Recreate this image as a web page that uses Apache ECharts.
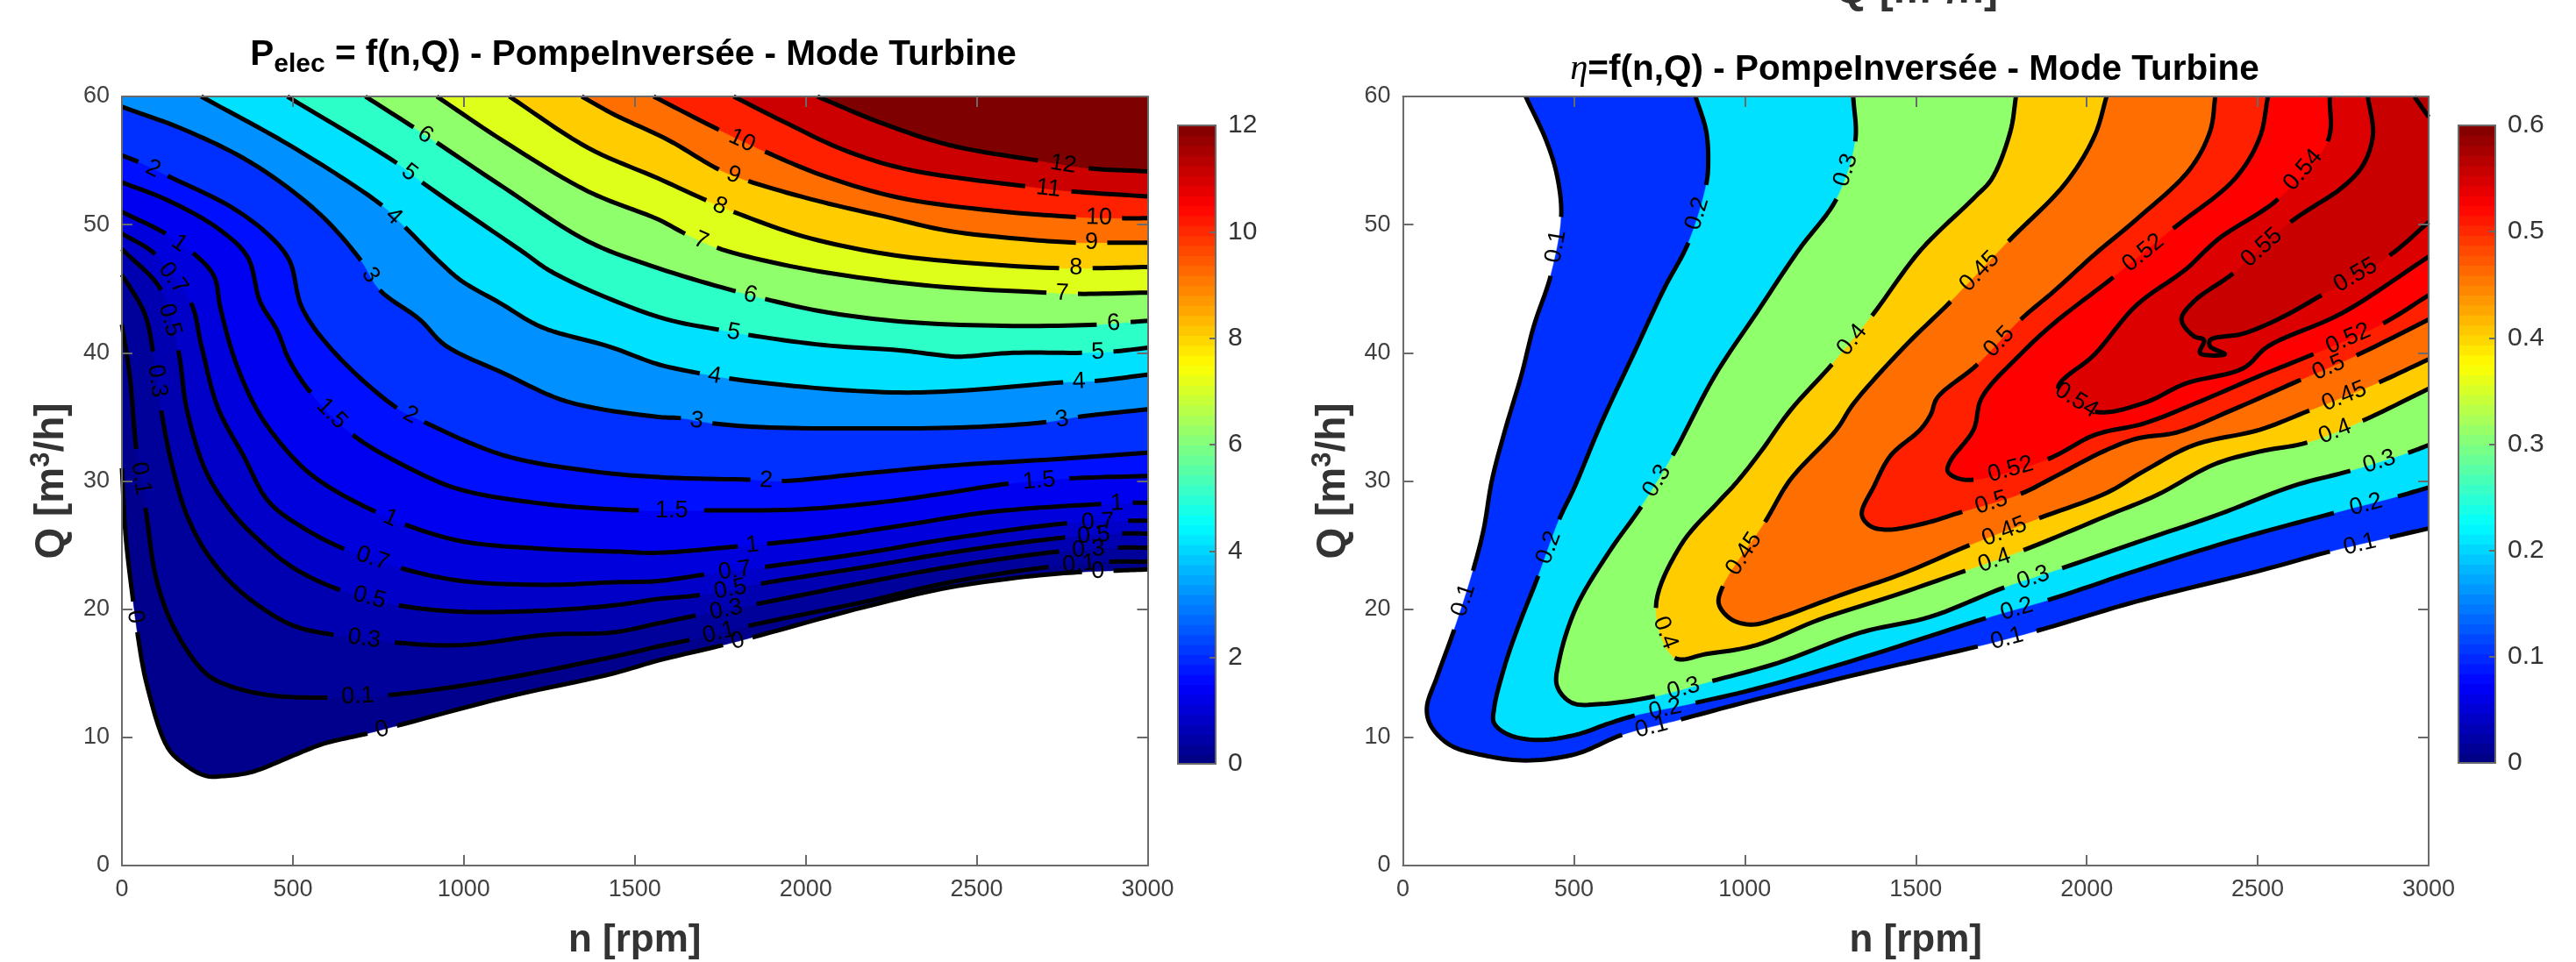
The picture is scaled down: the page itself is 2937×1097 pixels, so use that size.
<!DOCTYPE html>
<html><head><meta charset="utf-8">
<style>html,body{margin:0;padding:0;background:#fff}#c{width:2937px;height:1097px}</style>
<script src="https://cdn.jsdelivr.net/npm/echarts@6/dist/echarts.min.js"></script>
</head><body><div id="c"></div>
<script>
// ---------- data: contour lines as [n, Q]; breaks are where the inline labels sit ----------
const P_0=[[[0,31],[11,25.7],[33,20.6]],[[45,18.2],[73,14.1],[134,9.2],[183,7.9],[245,7],[306,7],[380,7.3],[503,8.6],[589,9.5],[718,10.3]],[[804,10.9],[1117,13.1],[1439,15],[1569,16],[1758,17.2]],[[1844,17.8],[2176,20.2],[2421,21.7],[2667,22.6],[2808,22.9]],[[2900,23],[3000,23.1]]];
const P_01=[[[0,42.2],[23,38.2],[42,32.5]],[[69,27.9],[103,22.1],[159,18.2],[245,15],[306,14.1],[429,13.3],[601,13.1]],[[779,13.3],[1056,14.3],[1439,16.3],[1569,17.1],[1660,17.6]],[[1832,18.7],[2176,20.6],[2421,22.1],[2710,23.3]],[[2888,23.7],[3000,23.7]]];
const P_03=[[[0,46.1],[66,43.1],[91,40.1]],[[115,35.5],[146,31.3],[189,27.4],[245,24.5],[318,22.1],[404,20.2],[503,18.7],[619,18]],[[798,17.4],[994,17.2],[1240,18],[1439,18.2],[1569,18.9],[1678,19.5]],[[1856,20.4],[2176,22.1],[2421,23.3],[2741,24.5]],[[2913,24.8],[3000,24.8]]];
const P_05=[[[0,48.1],[115,44.9]],[[165,40.2],[189,35.7],[245,30.8],[318,27.7],[404,25.3],[503,23.2],[638,21.5]],[[810,20.3],[994,19.8],[1240,19.9],[1439,20.3],[1569,20.8],[1690,21.1]],[[1869,22],[2176,23.3],[2421,24.4],[2759,25.6]],[[2925,25.9],[3000,25.9]]];
const P_07=[[[0,49.3],[97,47.7]],[[202,43.9],[232,40.6],[281,35.7],[355,32],[429,28.4],[527,26.4],[650,24.7]],[[816,23.2],[994,22.2],[1240,21.9],[1439,22.1],[1569,22.2],[1703,22.7]],[[1881,23.3],[2176,24.4],[2421,25.5],[2765,26.7]],[[2943,26.9],[3000,26.9]]];
const P_1=[[[0,51],[128,49.3]],[[208,47.8],[269,46],[288,43.5],[331,39.4],[392,35.7],[453,33.3],[540,30.8],[626,29.2],[742,27.6]],[[828,26.6],[994,25.3],[1240,24.7],[1439,24.5],[1569,24.4],[1801,24.9]],[[1887,25.1],[2053,25.6],[2298,26.6],[2544,27.6],[2864,28.2]],[[2956,28.3],[3000,28.3]]];
const P_15=[[[0,53.3],[134,51.9],[281,49.7],[367,47.5],[404,44],[453,41.8],[490,39.4],[552,36.9]],[[675,33.6],[871,30.6],[994,29.3],[1240,28.2],[1512,27.7]],[[1703,27.7],[1991,27.8],[2237,28.4],[2421,29.1],[2593,29.8]],[[2771,30.2],[3000,30.4]]];
const P_2=[[[0,55.4],[48,54.9]],[[134,53.8],[318,51.4],[429,49.2],[490,47.2],[527,43.5],[626,39.9],[804,35.7]],[[884,34.6],[1117,32],[1363,30.8],[1569,30.3],[1838,30.1]],[[1930,30],[2176,30.6],[2421,31.2],[2728,31.7],[3000,32.2]]];
const P_3=[[[0,59.2],[183,57.4],[380,54.8],[576,50.9],[699,47.2]],[[754,44.9],[871,42.6],[945,40.6],[1117,38.4],[1302,36.2],[1569,35],[1635,34.9]],[[1727,34.5],[1869,34.2],[2176,34.1],[2483,34.2],[2704,34.6]],[[2796,35],[3000,35.6]]];
const P_4=[[[232,60],[503,56],[761,51.5]],[[828,49.8],[933,47],[994,45.6],[1105,43.9],[1228,42],[1424,40.5],[1569,39.1],[1690,38.4]],[[1776,38],[2053,37.2],[2298,36.9],[2483,37.1],[2753,37.7]],[[2845,37.8],[3000,38.3]]];
const P_5=[[[484,60],[804,54.8]],[[878,53.3],[1166,48],[1265,46.2],[1569,42.8],[1746,41.8]],[[1832,41.4],[2053,40.6],[2274,40.2],[2397,39.8],[2446,39.7],[2606,40],[2808,40]],[[2900,40.1],[3000,40.4]]];
const P_6=[[[712,60],[853,57.6]],[[921,56.4],[1117,52.9],[1363,48.7],[1569,46.6],[1795,44.8]],[[1881,44.2],[2053,43.2],[2298,42.4],[2606,42.1],[2851,42.2]],[[2950,42.4],[3000,42.5]]];
const P_7=[[[921,60],[1117,56.5],[1363,52.6],[1569,50.4],[1647,49.3]],[[1740,48.2],[1930,46.9],[2176,45.8],[2421,45.1],[2704,44.7]],[[2796,44.6],[3000,44.7]]];
const P_8=[[[1133,60],[1363,56],[1569,53.6],[1709,51.9]],[[1789,51],[1991,49.1],[2237,47.7],[2483,47],[2741,46.6]],[[2839,46.6],[3000,46.7]]];
const P_9=[[[1345,60],[1439,58.6],[1598,56.6],[1746,54.3]],[[1832,53.4],[2028,51.9],[2237,50.6],[2421,49.5],[2667,48.8],[2790,48.6]],[[2882,48.6],[3000,48.6]]];
const P_10=[[[1555,60],[1746,57.4]],[[1881,55.7],[2053,53.8],[2274,52.1],[2544,51.1],[2790,50.6]],[[2925,50.5],[3000,50.5]]];
const P_11=[[[1789,60],[1930,58.1],[2114,55.8],[2298,54.3],[2642,53]],[[2777,52.6],[3000,52.2]]];
const P_12=[[[2034,60],[2224,57.9],[2421,56.2],[2679,55]],[[2827,54.4],[3000,54.15]]];

const E_01=[[[359,60],[420,56.5],[451,53.8],[463,50.6]],[[432,46],[383,42.1],[346,38.2],[297,33.8],[260,30],[236,26.2],[205,23]],[[150,18.4],[101,14.8],[70,12.3],[82,10.9],[138,9.4],[236,8.6],[359,8.2],[506,8.7],[641,10.2]],[[813,11.4],[1010,12.8],[1342,15],[1681,17.1]],[[1853,18.3],[2145,20.6],[2506,23],[2711,24.5]],[[2886,25.6],[3000,26.3]]];
const E_02=[[[856,60],[887,57.3],[893,55],[887,53.1]],[[835,48.6],[764,45],[678,40.1],[580,34.5],[500,29.4],[457,27]],[[396,22.6],[334,18.4],[297,15.5],[267,12.3],[267,11.1],[310,10.2],[396,9.8],[506,10.2],[604,11.1],[678,11.7]],[[856,12.7],[1034,13.8],[1342,16.2],[1705,19.3]],[[1886,20.7],[2145,23],[2446,25.5],[2723,27.5]],[[2910,28.8],[3000,29.5]]];
const E_03=[[[1317,60],[1323,56.5]],[[1268,52],[1157,48],[1034,43.1],[912,38.2],[789,32]],[[697,28],[604,24.5],[506,20.1],[457,16],[451,14],[494,12.7],[580,12.6],[737,13.2]],[[905,14.4],[1096,15.8],[1342,18.2],[1542,19.4],[1759,21.7]],[[1928,23.2],[2145,25.2],[2386,27.4],[2602,29.6],[2771,30.8]],[[2940,32.2],[3000,32.8]]];
const E_04=[[[1793,60],[1777,57.3],[1723,53.6],[1671,52.1],[1514,48],[1372,42.9]],[[1255,39.1],[1133,35.5],[1047,32.3],[973,29.8],[924,28.4],[813,25],[740,20.1]],[[795,16.2],[887,16.5],[1034,17.2],[1219,19.2],[1440,21.1],[1645,23]],[[1815,24.6],[2060,27.3],[2205,28.9],[2373,31.3],[2506,32.3],[2645,33]],[[2807,34.7],[3000,37.2]]];
const E_045=[[[2058,60],[2024,57],[1940,53.3],[1771,48.7]],[[1602,44],[1464,40.4],[1317,36],[1268,34],[1133,30.1],[1059,26.8]],[[936,21.8],[924,20.4],[961,19.2],[1022,18.8],[1096,19.3],[1280,21.1],[1464,22.8],[1657,25]],[[1861,27.1],[2060,29.1],[2169,30.8],[2313,32.8],[2506,34],[2651,35.5]],[[2855,37.7],[3000,39.5]]];
const E_05=[[[2376,60],[2361,57.3],[2301,54.3],[2145,50.4],[2024,47.7],[1904,44.8],[1807,42.6]],[[1681,39.1],[1563,36.5],[1544,35.2],[1513,34],[1427,32],[1378,29.6],[1342,27.4],[1366,26.5],[1415,26.2],[1526,26.7],[1636,27.6]],[[1807,29],[1904,30.3],[2048,32.3],[2145,33.3],[2265,33.8],[2422,35.5],[2626,37.9]],[[2789,39.8],[3000,42.6]]];
const E_052=[[[2530,60],[2506,56.8],[2434,53.6],[2253,49.7]],[[2078,45.9],[1904,42.3],[1807,39.9],[1693,36.5],[1669,34],[1602,31.6],[1593,30.8],[1614,30.3],[1669,30.1]],[[1886,31.7],[2024,33.6],[2169,34.5],[2313,36],[2506,38.2],[2663,39.9]],[[2867,42.3],[3000,44.5]]];
const E_054=[[[2711,60],[2705,56.5]],[[2560,52],[2386,48.9],[2289,46.5],[2145,43.7],[2024,39.9],[1916,37.2]],[[2024,35.4],[2169,36.1],[2289,37.6],[2458,38.8],[2530,40.5],[2747,43.1],[3000,47.5]]];
const E_055=[[[2822,60],[2837,57],[2807,54.6],[2747,52.9],[2596,50.2]],[[2428,46.2],[2313,44],[2277,42.6],[2313,41.3],[2343,41],[2331,40],[2361,39.8],[2404,39.9],[2361,40.5],[2361,41],[2458,41.5],[2566,42.7],[2687,44.5]],[[2886,47.6],[3000,50.2]]];
const E_056=[[[2958,60],[3000,58.4]]];

const pLevels=['0','0.1','0.3','0.5','0.7','1','1.5','2','3','4','5','6','7','8','9','10','11','12'];
const pLines=[P_0,P_01,P_03,P_05,P_07,P_1,P_15,P_2,P_3,P_4,P_5,P_6,P_7,P_8,P_9,P_10,P_11,P_12];
const pColors=['#00008c','#00009a','#0000b0','#0000c8','#0000dd','#0000f0','#0010ff','#0030ff','#0090ff','#00e0ff','#2dffc9','#90ff6c','#deff1a','#ffcc00','#ff6e00','#ff2000','#cc0000','#7f0000'];
const eLevels=['0.1','0.2','0.3','0.4','0.45','0.5','0.52','0.54','0.55',''];
const eLines=[E_01,E_02,E_03,E_04,E_045,E_05,E_052,E_054,E_055,E_056];
const eColors=['#0030ff','#00e0ff','#90ff6c','#ffcc00','#ff6e00','#ff2000','#ff0000','#dd0000','#c80000','#b40000'];

// ---------- style ----------
const FF='"Liberation Sans",Arial,sans-serif', AX='#6a6a6a', TXT='#404040';
const PLOTS=[{l:139,r:1308.5,t:110,b:987},{l:1599.5,r:2769,t:110,b:987}];
const CBS=[{l:1343,r:1386,t:143,b:871,max:12,iv:2,fmt:v=>String(v)},{l:2803,r:2845,t:143,b:870,max:0.6,iv:0.1,fmt:v=>String(+v.toFixed(1))}];

function jet(i,n){const v=(i+.5)/n;const c=x=>Math.round(255*Math.max(0,Math.min(1,1.5-Math.abs(4*v-x))));
  return `rgb(${c(3)},${c(2)},${c(1)})`;}

function pt(a,b,c,d,t){ // centripetal Catmull-Rom
  const k=(p,q)=>Math.max(1e-3,Math.sqrt(Math.hypot(q[0]-p[0],q[1]-p[1])));
  const t1=k(a,b),t2=t1+k(b,c),t3=t2+k(c,d),u=t1+(t2-t1)*t;
  const L=(p,q,s,e)=>[p[0]+(q[0]-p[0])*(u-s)/(e-s),p[1]+(q[1]-p[1])*(u-s)/(e-s)];
  const A1=L(a,b,0,t1),A2=L(b,c,t1,t2),A3=L(c,d,t2,t3),B1=L(A1,A2,0,t2),B2=L(A2,A3,t1,t3);
  return L(B1,B2,t1,t2);
}
function trace(segs,api){
  const pts=[],br=[];segs.forEach(s=>{s.forEach((p,i)=>{pts.push(api.coord(p));if(i===s.length-1)br.push(pts.length-1);});});
  const N=pts.length,all=[],strokes=[],labels=[];let cur=[];
  if(N===2){return {all:pts,strokes:[pts],labels:[]};}
  for(let i=0;i<N-1;i++){
    const a=i?pts[i-1]:[2*pts[0][0]-pts[1][0],2*pts[0][1]-pts[1][1]],b=pts[i],c=pts[i+1],
      d=i+2<N?pts[i+2]:[2*pts[N-1][0]-pts[N-2][0],2*pts[N-1][1]-pts[N-2][1]];
    const gap=br.includes(i);
    const run=[];for(let j=0;j<=10;j++){run.push(pt(a,b,c,d,j/10));}
    all.push(...run);
    if(gap){strokes.push(cur);cur=[];
      let an=Math.atan2(-(c[1]-b[1]),c[0]-b[0]);if(an>Math.PI/2)an-=Math.PI;if(an<-Math.PI/2)an+=Math.PI;
      labels.push({x:(b[0]+c[0])/2,y:(b[1]+c[1])/2,r:an});
    }else cur.push(...run);
  }
  strokes.push(cur);
  return {all,strokes,labels};
}
function fillSeries(lines,colors,g){return {type:'custom',coordinateSystem:'cartesian2d',xAxisIndex:g,yAxisIndex:g,z:1,silent:true,
  data:lines.map((_,i)=>[i,i]),renderItem(p,api){const segs=lines[p.dataIndex],tr=trace(segs,api),first=segs[0][0];
    return {type:'polygon',shape:{points:tr.all.concat([api.coord([3000,60]),api.coord([first[0],60])])},style:{fill:colors[p.dataIndex],stroke:colors[p.dataIndex],lineWidth:.5}};}};}
function lineSeries(lines,levels,g){return {type:'custom',coordinateSystem:'cartesian2d',xAxisIndex:g,yAxisIndex:g,z:2,silent:true,
  data:lines.map((_,i)=>[i,i]),renderItem(p,api){const tr=trace(lines[p.dataIndex],api);
    const ch=tr.strokes.map(s=>({type:'polyline',shape:{points:s},style:{stroke:'#000',lineWidth:5,fill:null,lineJoin:'round'}}));
    tr.labels.forEach(l=>ch.push({type:'text',x:l.x,y:l.y,rotation:l.r,z2:5,style:{text:levels[p.dataIndex],fontSize:27,fontFamily:FF,fill:'#000',align:'center',verticalAlign:'middle'}}));
    return {type:'group',children:ch};}};}
function cbSeries(g,cb){const n=64,vals=[];for(let i=0;i<n;i++)vals.push([0,i*cb.max/n,cb.max/n,i]);
  return {type:'custom',coordinateSystem:'cartesian2d',xAxisIndex:g,yAxisIndex:g,z:1,silent:true,data:vals,
    renderItem(p,api){const a=api.coord([0,api.value(1)]),b=api.coord([1,api.value(1)+api.value(2)]);
      return {type:'rect',shape:{x:a[0],y:b[1],width:b[0]-a[0],height:a[1]-b[1]+1},style:{fill:jet(api.value(3),n)}};}};}

const grids=[],xA=[],yA=[],series=[];
const base={z:6,axisLine:{show:true,onZero:false,lineStyle:{color:AX,width:2}},splitLine:{show:false}};
const lbl=(f)=>({show:true,fontSize:27,color:TXT,fontFamily:FF,margin:14,showMinLabel:true,showMaxLabel:true,hideOverlap:false,formatter:f||(v=>String(v))});
const yRich={b:{fontSize:46,fontWeight:'bold',color:'#333',fontFamily:FF},s:{fontSize:31,fontWeight:'bold',color:'#333',fontFamily:FF,padding:[0,0,24,0]}};
const topRich={b:{...yRich.b,fontSize:48},s:{...yRich.s,fontSize:32}};
PLOTS.forEach((P,i)=>{
  const g=grids.length;grids.push({left:P.l,top:P.t,width:P.r-P.l,height:P.b-P.t,containLabel:false,outerBoundsMode:'none'});
  const tick={show:true,inside:true,length:12,lineStyle:{color:AX,width:2}};
  xA.push({...base,gridIndex:g,type:'value',position:'bottom',min:0,max:3000,interval:500,axisTick:tick,axisLabel:lbl(),
    name:'n [rpm]',nameLocation:'middle',nameGap:64,nameTextStyle:{fontSize:44,fontWeight:'bold',color:'#333',fontFamily:FF}});
  xA.push({...base,gridIndex:g,type:'value',position:'top',min:0,max:3000,interval:500,axisTick:tick,axisLabel:{show:false}});
  yA.push({...base,gridIndex:g,type:'value',position:'left',min:0,max:60,interval:10,axisTick:tick,axisLabel:lbl(),
    name:'{b|Q [m}{s|3}{b|/h]}',nameLocation:'middle',nameRotate:90,nameGap:52,nameTextStyle:{rich:yRich}});
  yA.push({...base,gridIndex:g,type:'value',position:'right',min:0,max:60,interval:10,axisTick:tick,axisLabel:{show:false}});
  const xi=xA.length-2;
  const lines=i?eLines:pLines,levels=i?eLevels:pLevels,cols=i?eColors:pColors;
  series.push(fillSeries(lines,cols,xi),lineSeries(lines,levels,xi));
  const C=CBS[i],h=grids.length;grids.push({left:C.l,top:C.t,width:C.r-C.l,height:C.b-C.t,outerBoundsMode:'none'});
  xA.push({...base,gridIndex:h,type:'value',position:'bottom',min:0,max:1,axisTick:{show:false},axisLabel:{show:false}});
  xA.push({...base,gridIndex:h,type:'value',position:'top',min:0,max:1,axisTick:{show:false},axisLabel:{show:false}});
  yA.push({...base,gridIndex:h,type:'value',position:'right',min:0,max:C.max,interval:C.iv,axisTick:{show:true,inside:true,length:7,lineStyle:{color:AX,width:2}},axisLabel:{...lbl(C.fmt),fontSize:30,color:'#333'}});
  yA.push({...base,gridIndex:h,type:'value',position:'left',min:0,max:C.max,interval:C.iv,axisTick:{show:false},axisLabel:{show:false}});
  series.push(cbSeries(xA.length-2,C));
});
const T={fontSize:40.5,fontWeight:'bold',color:'#000',fontFamily:FF};
const chart=echarts.init(document.getElementById('c'),null,{renderer:'canvas'});
chart.setOption({animation:false,backgroundColor:'#fff',grid:grids,xAxis:xA,yAxis:yA,series,
  title:[
   {left:717,top:32,textAlign:'center',text:'{b|P}{s|elec}{b| = f(n,Q) - PompeInversée - Mode Turbine}',
    textStyle:{rich:{b:{...T},s:{...T,fontSize:30,padding:[22,0,0,0]}}}},
   {left:2178,top:54,textAlign:'center',text:'{e|η}{b|=f(n,Q) - PompeInversée - Mode Turbine}',
    textStyle:{rich:{b:{...T},e:{...T,fontFamily:'"Liberation Serif",serif',fontStyle:'italic',fontWeight:'normal'}}}},
   {left:2180,top:-43,textAlign:'center',text:'{b|Q [m}{s|3}{b|/h]}',textStyle:{rich:topRich}}
  ]});
</script></body></html>
